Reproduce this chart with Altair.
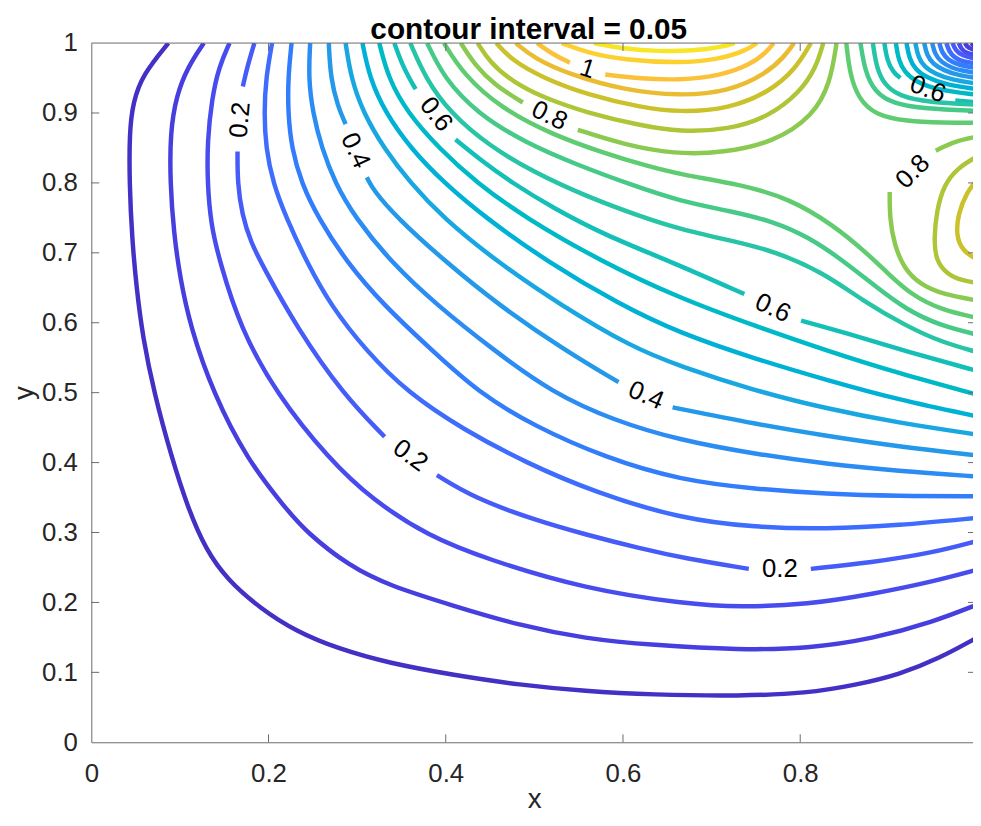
import altair as alt
import pandas as pd

# ---- traced contour polylines (x, y) in data units, one list per drawn segment ----
c005 = [(0.087,1.0),(0.058,0.955),(0.047,0.915),(0.043,0.872),(0.043,0.80),(0.046,0.72),(0.051,0.65),(0.058,0.58),(0.071,0.499),(0.090,0.41),(0.109,0.335),(0.129,0.276),(0.153,0.233),(0.191,0.191),(0.232,0.158),(0.278,0.134),(0.336,0.113),(0.409,0.096),(0.483,0.082),(0.558,0.073),(0.632,0.068),(0.733,0.066),(0.807,0.070),(0.863,0.082),(0.912,0.097),(0.957,0.120),(1.0,0.15)]
c010 = [(0.127,1.0),(0.109,0.966),(0.096,0.925),(0.089,0.872),(0.089,0.80),(0.093,0.73),(0.100,0.665),(0.112,0.593),(0.138,0.498),(0.176,0.404),(0.219,0.335),(0.243,0.300),(0.291,0.252),(0.336,0.224),(0.409,0.195),(0.483,0.167),(0.558,0.148),(0.632,0.139),(0.733,0.132),(0.808,0.134),(0.882,0.148),(0.950,0.172),(1.0,0.197)]
c015 = [(0.156,1.0),(0.144,0.966),(0.136,0.92),(0.131,0.86),(0.131,0.80),(0.135,0.74),(0.145,0.687),(0.168,0.593),(0.209,0.498),(0.269,0.404),(0.317,0.347),(0.38,0.295),(0.446,0.262),(0.558,0.219),(0.670,0.198),(0.733,0.193),(0.808,0.197),(0.882,0.212),(0.950,0.23),(1.0,0.247)]
c020a = [(0.184,1.0),(0.176,0.966),(0.171,0.938)]
c020b = [(0.165,0.845),(0.165,0.80),(0.170,0.755),(0.180,0.715),(0.194,0.68),(0.232,0.593),(0.284,0.498),(0.331,0.437)]
c020c = [(0.390,0.382),(0.431,0.35),(0.50,0.318),(0.558,0.297),(0.620,0.277),(0.670,0.263),(0.742,0.248)]
c020d = [(0.812,0.248),(0.88,0.257),(0.95,0.271),(1.0,0.288)]
c025 = [(0.204,1.0),(0.197,0.95),(0.195,0.9),(0.197,0.85),(0.205,0.8),(0.220,0.75),(0.243,0.687),(0.27,0.625),(0.31,0.56),(0.357,0.5),(0.42,0.447),(0.49,0.40),(0.569,0.357),(0.664,0.32),(0.75,0.307),(0.83,0.305),(0.91,0.31),(1.0,0.321)]
c030 = [(0.226,1.0),(0.222,0.95),(0.222,0.9),(0.226,0.85),(0.237,0.8),(0.256,0.75),(0.288,0.687),(0.33,0.625),(0.385,0.56),(0.437,0.5),(0.50,0.452),(0.58,0.407),(0.664,0.375),(0.75,0.362),(0.83,0.355),(0.91,0.352),(1.0,0.352)]
c035 = [(0.247,1.0),(0.245,0.95),(0.250,0.9),(0.260,0.85),(0.275,0.8),(0.298,0.75),(0.338,0.687),(0.39,0.625),(0.455,0.56),(0.52,0.5),(0.59,0.46),(0.664,0.432),(0.75,0.412),(0.83,0.398),(0.91,0.388),(1.0,0.38)]
c040a = [(0.268,1.0),(0.270,0.95),(0.278,0.91),(0.287,0.884)]
c040b = [(0.311,0.808),(0.318,0.79),(0.345,0.75),(0.40,0.687),(0.46,0.625),(0.535,0.56),(0.595,0.515)]
c040c = [(0.656,0.479),(0.75,0.455),(0.83,0.438),(0.91,0.423),(1.0,0.41)]
c045 = [(0.287,1.0),(0.293,0.95),(0.307,0.9),(0.33,0.85),(0.36,0.8),(0.397,0.75),(0.458,0.687),(0.53,0.625),(0.61,0.565),(0.664,0.538),(0.748,0.503),(0.83,0.477),(0.91,0.457),(1.0,0.44)]
c050 = [(0.306,1.0),(0.314,0.95),(0.332,0.9),(0.36,0.85),(0.398,0.8),(0.445,0.75),(0.515,0.687),(0.595,0.627),(0.664,0.585),(0.75,0.548),(0.83,0.518),(0.91,0.49),(1.0,0.466)]
c055 = [(0.325,1.0),(0.335,0.95),(0.357,0.9),(0.392,0.85),(0.435,0.8),(0.49,0.75),(0.575,0.688),(0.664,0.635),(0.75,0.595),(0.83,0.56),(0.91,0.528),(1.0,0.497)]
c060a = [(0.342,1.0),(0.352,0.965),(0.366,0.934)]
c060b = [(0.411,0.862),(0.44,0.832),(0.475,0.8),(0.52,0.765),(0.58,0.725),(0.655,0.687),(0.737,0.641)]
c060c = [(0.801,0.603),(0.85,0.586),(0.92,0.559),(1.0,0.531)]
c065 = [(0.36,1.0),(0.377,0.95),(0.405,0.90),(0.45,0.852),(0.50,0.815),(0.56,0.78),(0.62,0.752),(0.664,0.734),(0.72,0.718),(0.77,0.703),(0.826,0.672),(0.87,0.632),(0.92,0.595),(0.96,0.572),(1.0,0.558)]
c070 = [(0.379,1.0),(0.398,0.95),(0.435,0.90),(0.49,0.857),(0.55,0.825),(0.61,0.797),(0.664,0.774),(0.72,0.76),(0.77,0.745),(0.81,0.722),(0.845,0.692),(0.882,0.655),(0.92,0.618),(0.96,0.595),(1.0,0.583)]
c075a = [(0.398,1.0),(0.42,0.955),(0.462,0.907),(0.52,0.869),(0.58,0.842),(0.625,0.825),(0.664,0.812),(0.733,0.798),(0.789,0.777),(0.837,0.740),(0.874,0.701),(0.897,0.673),(0.925,0.64),(0.96,0.618),(1.0,0.607)]
c075b = [(0.852,1.0),(0.856,0.955),(0.866,0.92),(0.885,0.897),(0.92,0.888),(0.96,0.886),(1.0,0.886)]
c080a = [(0.417,1.0),(0.432,0.97),(0.455,0.94),(0.487,0.915)]
c080b = [(0.549,0.876),(0.60,0.855),(0.658,0.841),(0.714,0.843),(0.77,0.858),(0.815,0.896),(0.834,0.943),(0.841,1.0)]
c080c = [(0.953,0.846),(0.975,0.86),(1.0,0.866)]
c080d = [(0.901,0.787),(0.901,0.75),(0.906,0.712),(0.917,0.678),(0.935,0.655),(0.962,0.64),(1.0,0.632)]
c085a = [(0.436,1.0),(0.45,0.972),(0.475,0.945),(0.51,0.922),(0.56,0.9),(0.62,0.882),(0.664,0.873),(0.72,0.876),(0.765,0.895),(0.80,0.93),(0.818,0.965),(0.826,1.0)]
c085b = [(1.0,0.838),(0.978,0.822),(0.962,0.797),(0.954,0.76),(0.951,0.72),(0.953,0.69),(0.965,0.67),(0.983,0.66),(1.0,0.657)]
c090a = [(0.457,1.0),(0.475,0.975),(0.51,0.95),(0.56,0.926),(0.62,0.908),(0.664,0.901),(0.72,0.906),(0.765,0.93),(0.795,0.963),(0.812,1.0)]
c090b = [(1.0,0.805),(0.988,0.787),(0.978,0.755),(0.976,0.725),(0.983,0.703),(1.0,0.69)]
c095 = [(0.479,1.0),(0.50,0.978),(0.54,0.955),(0.60,0.933),(0.664,0.924),(0.72,0.931),(0.76,0.955),(0.782,0.98),(0.793,1.0)]
c100a = [(0.503,1.0),(0.522,0.983),(0.54,0.972)]
c100b = [(0.58,0.955),(0.62,0.949),(0.664,0.947),(0.71,0.953),(0.745,0.97),(0.762,0.987),(0.770,1.0)]
c105 = [(0.531,1.0),(0.56,0.986),(0.60,0.976),(0.664,0.971),(0.71,0.977),(0.74,0.99),(0.751,1.0)]
c110 = [(0.567,1.0),(0.60,0.992),(0.64,0.988),(0.68,0.989),(0.71,0.994),(0.726,1.0)]
# fan of contours around the top-right corner
c070b = [(0.868,1.0),(0.873,0.96),(0.884,0.93),(0.905,0.913),(0.94,0.906),(1.0,0.903)]
c065b = [(0.882,1.0),(0.886,0.965),(0.895,0.94),(0.912,0.924),(0.945,0.915),(1.0,0.912)]
c060d = [(0.895,1.0),(0.898,0.975),(0.905,0.958),(0.913,0.95)]
c060e = [(0.975,0.918),(1.0,0.915)]
c055b = [(0.908,1.0),(0.911,0.975),(0.918,0.958),(0.93,0.945),(0.955,0.933),(1.0,0.926)]
c050b = [(0.92,1.0),(0.923,0.978),(0.93,0.962),(0.942,0.951),(0.965,0.94),(1.0,0.934)]
c045b = [(0.93,1.0),(0.933,0.98),(0.94,0.966),(0.952,0.956),(0.972,0.947),(1.0,0.942)]
c040d = [(0.94,1.0),(0.943,0.982),(0.95,0.97),(0.962,0.961),(0.978,0.954),(1.0,0.95)]
c035b = [(0.949,1.0),(0.952,0.984),(0.959,0.973),(0.97,0.965),(0.984,0.96),(1.0,0.957)]
c030b = [(0.957,1.0),(0.96,0.986),(0.967,0.976),(0.977,0.969),(1.0,0.964)]
c025b = [(0.965,1.0),(0.968,0.988),(0.974,0.979),(0.984,0.973),(1.0,0.971)]
c020e = [(0.972,1.0),(0.975,0.99),(0.982,0.982),(1.0,0.977)]
c015b = [(0.979,1.0),(0.982,0.991),(0.988,0.985),(1.0,0.983)]
c010b = [(0.986,1.0),(0.989,0.993),(1.0,0.989)]
c005b = [(0.993,1.0),(0.996,0.996),(1.0,0.995)]

segments = [
    (0.05, c005), (0.05, c005b), (0.10, c010), (0.10, c010b), (0.15, c015), (0.15, c015b),
    (0.20, c020a), (0.20, c020b), (0.20, c020c), (0.20, c020d), (0.20, c020e),
    (0.25, c025), (0.25, c025b), (0.30, c030), (0.30, c030b), (0.35, c035), (0.35, c035b),
    (0.40, c040a), (0.40, c040b), (0.40, c040c), (0.40, c040d),
    (0.45, c045), (0.45, c045b), (0.50, c050), (0.50, c050b), (0.55, c055), (0.55, c055b),
    (0.60, c060a), (0.60, c060b), (0.60, c060c), (0.60, c060d), (0.60, c060e),
    (0.65, c065), (0.65, c065b), (0.70, c070), (0.70, c070b), (0.75, c075a), (0.75, c075b),
    (0.80, c080a), (0.80, c080b), (0.80, c080c), (0.80, c080d),
    (0.85, c085a), (0.85, c085b), (0.90, c090a), (0.90, c090b), (0.95, c095),
    (1.00, c100a), (1.00, c100b), (1.05, c105), (1.10, c110),
]

# contour labels
lab_text = ["0.2", "0.4", "0.6", "0.8", "1", "0.2", "0.4", "0.6", "0.2", "0.8", "0.6"]
lab_x = [0.168, 0.298, 0.389, 0.517, 0.560, 0.360, 0.626, 0.769, 0.777, 0.927, 0.944]
lab_y = [0.890, 0.846, 0.898, 0.896, 0.963, 0.410, 0.496, 0.621, 0.248, 0.816, 0.934]
lab_angle = [275, 65, 52, 26, 18, 36, 23, 25, 0, 315, 20]

title_text = "contour interval = 0.05"
x_ticks = [0, 0.2, 0.4, 0.6, 0.8]
y_ticks = [0, 0.1, 0.2, 0.3, 0.4, 0.5, 0.6, 0.7, 0.8, 0.9, 1.0]
x_inner_ticks = [0.2, 0.4, 0.6, 0.8]
y_inner_ticks = [0.1, 0.2, 0.3, 0.4, 0.5, 0.6, 0.7, 0.8, 0.9]

# parula colormap stops
parula = ["#3E26A8", "#4332CA", "#4742E6", "#4853F5", "#4465FD", "#3579FD", "#2D8BF4",
          "#269AE8", "#1CA9E0", "#08B4D1", "#09BDBD", "#25C2AE", "#42CA8B", "#5DCC74",
          "#8FCA4E", "#B5C533", "#D6BE27", "#F9BA3E", "#FDCB32", "#F5E327", "#F9FB15"]
cmin, cmax = 0.0, 1.15

rows = []
for sid, (lev, pts) in enumerate(segments):
    for k, (px, py) in enumerate(pts):
        rows.append({"seg": sid, "k": k, "level": lev, "x": px, "y": py})
df = pd.DataFrame(rows)
labels = pd.DataFrame({"text": lab_text, "x": lab_x, "y": lab_y, "angle": lab_angle})

W, H = 889, 705
XMAX = 0.995
FONT = "Liberation Sans"
AX = "#262626"
LINE_AX = "#6a6a6a"

n = len(parula)
cdomain = [cmin + (cmax - cmin) * i / (n - 1) for i in range(n)]

xscale = alt.Scale(domain=[0, XMAX], nice=False, zero=False)
yscale = alt.Scale(domain=[0, 1], nice=False, zero=False)

xaxis = alt.Axis(values=x_ticks, format="~g", grid=False, ticks=False, tickSize=0,
                 labelFont=FONT, labelFontSize=26, labelColor=AX, labelPadding=40,
                 labelBaseline="alphabetic", labelFlush=False, labelOverlap=False,
                 domainColor=LINE_AX, domainWidth=1,
                 title="x", titleFont=FONT, titleFontSize=28, titleFontWeight="normal",
                 titleColor=AX, titleX=446.5, titleY=66, titleBaseline="alphabetic",
                 titleAlign="center")
yaxis = alt.Axis(values=y_ticks, format="~g", grid=False, ticks=False, tickSize=0,
                 labelFont=FONT, labelFontSize=26, labelColor=AX, labelPadding=14,
                 labelAlign="right", labelBaseline="middle", labelFlush=False,
                 labelOverlap=False, domainColor=LINE_AX, domainWidth=1,
                 title="y", titleFont=FONT, titleFontSize=28, titleFontWeight="normal",
                 titleColor=AX, titleAngle=270, titleX=-67, titleY=352.5,
                 titleBaseline="middle", titleAlign="center")

lines = alt.Chart(df).mark_line(
    strokeWidth=4.5, interpolate="basis", clip=True, strokeCap="butt", strokeJoin="round"
).encode(
    x=alt.X("x:Q", scale=xscale, axis=xaxis),
    y=alt.Y("y:Q", scale=yscale, axis=yaxis),
    color=alt.Color("level:Q", scale=alt.Scale(domain=cdomain, range=parula), legend=None),
    detail="seg:N",
    order="k:Q",
)

text = alt.Chart(labels).mark_text(
    font=FONT, fontSize=26, color="#000000", align="center", baseline="middle", clip=True
).encode(
    x=alt.X("x:Q", scale=xscale, axis=xaxis),
    y=alt.Y("y:Q", scale=yscale, axis=yaxis),
    text="text:N",
    angle=alt.Angle("angle:Q", scale=None),
)

xt = pd.DataFrame({"t": x_inner_ticks})
yt = pd.DataFrame({"t": y_inner_ticks})
bottom_ticks = alt.Chart(xt).mark_rule(color=LINE_AX, strokeWidth=1).encode(
    x=alt.X("t:Q", scale=xscale, axis=xaxis), y=alt.value(H), y2=alt.value(H - 8))
top_ticks = alt.Chart(xt).mark_rule(color=LINE_AX, strokeWidth=1).encode(
    x=alt.X("t:Q", scale=xscale, axis=xaxis), y=alt.value(0), y2=alt.value(8))
left_ticks = alt.Chart(yt).mark_rule(color=LINE_AX, strokeWidth=1).encode(
    y=alt.Y("t:Q", scale=yscale, axis=yaxis), x=alt.value(0), x2=alt.value(8))
right_ticks = alt.Chart(yt).mark_rule(color=LINE_AX, strokeWidth=1).encode(
    y=alt.Y("t:Q", scale=yscale, axis=yaxis), x=alt.value(W - 5), x2=alt.value(W))
top_border = alt.Chart(pd.DataFrame({"a": [0]})).mark_rule(color=LINE_AX, strokeWidth=1).encode(
    x=alt.value(0), x2=alt.value(W), y=alt.value(0))
title_mark = alt.Chart(pd.DataFrame({"t": [title_text]})).mark_text(
    font=FONT, fontSize=30, fontWeight="bold", color="#000000", align="center",
    baseline="alphabetic"
).encode(text="t:N", x=alt.value(441), y=alt.value(-4.5))

chart = alt.layer(lines, text, bottom_ticks, top_ticks, left_ticks, right_ticks,
                  top_border, title_mark).properties(
    width=W, height=H,
    padding={"left": 84, "top": 32, "right": 0, "bottom": 73},
    autosize=alt.AutoSizeParams(type="none"),
).configure_view(stroke=None)

chart.save("out.html", embed_options={"renderer": "svg", "actions": False})
